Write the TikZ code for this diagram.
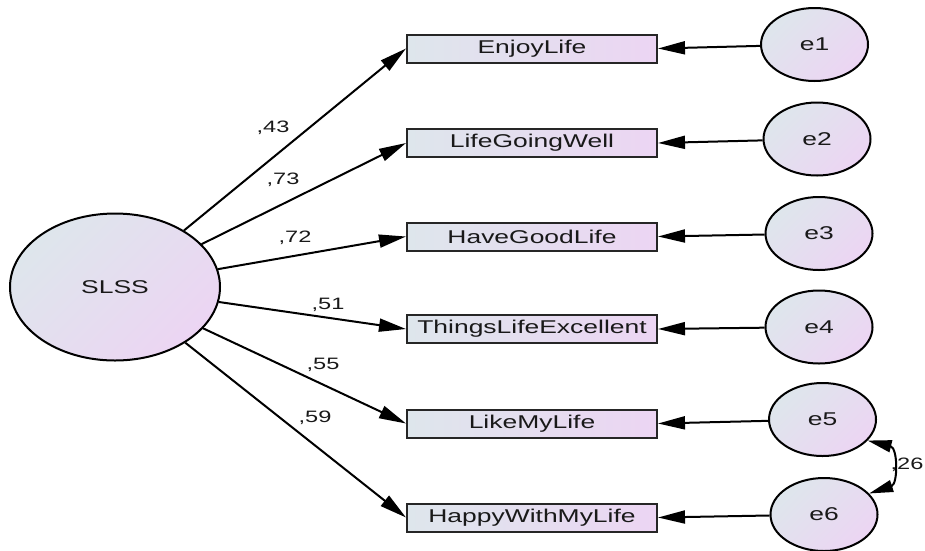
\documentclass[tikz,border=0pt]{standalone}
\usepackage{fontspec}
\usepackage{graphicx}
\setmainfont{Liberation Sans}
\usetikzlibrary{arrows.meta,shapes.geometric}
\definecolor{cA}{RGB}{222,230,236}
\definecolor{cB}{RGB}{236,213,243}
\newcommand{\sx}[1]{\scalebox{1.43}[1]{#1}}
\tikzset{
  latent/.style={ellipse, draw=black, line width=2pt, inner sep=0pt,
    top color=cA, bottom color=cB, shading angle=45,
    font=\fontsize{18.5}{21}\selectfont, text=black!90},
  obsbox/.style={rectangle, draw=black!85, line width=2pt, inner sep=0pt,
    minimum width=250pt, minimum height=28pt, left color=cA, right color=cB,
    font=\fontsize{18.5}{21}\selectfont, text=black!90},
  errnode/.style={latent, minimum width=107pt, minimum height=73pt},
  patharrow/.style={line width=2pt, -{Triangle[length=27pt,width=13pt]}},
  wlabel/.style={font=\fontsize{16.5}{18}\selectfont, text=black!90, inner sep=0pt}
}
\begin{document}
\begin{tikzpicture}[x=1pt,y=-1pt]
\useasboundingbox (0,0) rectangle (925,550);
\node[latent, minimum width=210pt, minimum height=147pt] (slss) at (115,287) {\sx{SLSS}};
\node[obsbox] (b1) at (532,48.5) {\sx{EnjoyLife}};
\node[obsbox] (b2) at (532,143) {\sx{LifeGoingWell}};
\node[obsbox] (b3) at (532,236.5) {\sx{HaveGoodLife}};
\node[obsbox] (b4) at (532,329) {\sx{ThingsLifeExcellent}};
\node[obsbox] (b5) at (532,423.5) {\sx{LikeMyLife}};
\node[obsbox] (b6) at (532,517.5) {\sx{HappyWithMyLife}};
\node[errnode] (e1) at (814.5,44.5) {\sx{e1}};
\node[errnode] (e2) at (817,139) {\sx{e2}};
\node[errnode] (e3) at (819,233.5) {\sx{e3}};
\node[errnode] (e4) at (819,327) {\sx{e4}};
\node[errnode] (e5) at (822.5,419.5) {\sx{e5}};
\node[errnode] (e6) at (824,514.5) {\sx{e6}};
\foreach \i in {1,...,6} {
  \draw[patharrow] (slss) -- (b\i.west);
  \draw[patharrow] (e\i) -- (b\i.east);
}
\draw[line width=2pt, {Triangle[length=24pt,width=12pt]}-{Triangle[length=24pt,width=12pt]}]
  (e5.-25) .. controls (898,448) and (898,484) .. (e6.25);
\node[wlabel] (l1) at (273,128) {\sx{,43}};
\node[wlabel] (l2) at (283,180) {\sx{,73}};
\node[wlabel] (l3) at (295,238) {\sx{,72}};
\node[wlabel] (l4) at (328,305) {\sx{,51}};
\node[wlabel] (l5) at (323,365) {\sx{,55}};
\node[wlabel] (l6) at (315,418) {\sx{,59}};
\node[wlabel] (l7) at (907,465) {\sx{,26}};
\end{tikzpicture}
\end{document}
